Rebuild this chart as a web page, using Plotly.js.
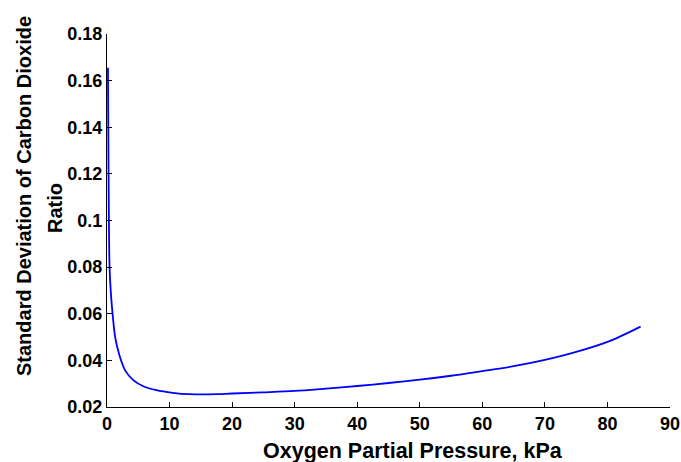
<!DOCTYPE html>
<html>
<head>
<meta charset="utf-8">
<script src="https://cdn.plot.ly/plotly-3.0.1.min.js"></script>
<style>html,body{margin:0;padding:0;background:#fff;}#chart{width:681px;height:462px;}</style>
</head>
<body>
<div id="chart"></div>
<script>
const oxygenKPa = [0.15, 0.25, 0.41, 0.63, 0.95, 1.31, 2.0, 2.9, 4.2, 5.8, 7.9, 10.5, 13.2, 17.6, 20, 25, 30, 35, 40, 45, 50, 55, 60, 65, 70, 75, 80, 85.3];
const sdRatio = [0.1655, 0.12, 0.08, 0.0684, 0.0584, 0.0499, 0.0421, 0.0357, 0.0315, 0.0289, 0.0272, 0.0261, 0.0255, 0.0255, 0.0258, 0.0263, 0.0269, 0.0279, 0.0290, 0.0303, 0.0317, 0.0334, 0.0354, 0.0375, 0.0402, 0.0436, 0.0479, 0.0545];
const xTicks = [0, 10, 20, 30, 40, 50, 60, 70, 80, 90];
const yTicks = [0.02, 0.04, 0.06, 0.08, 0.1, 0.12, 0.14, 0.16, 0.18];
const yTickText = ['0.02', '0.04', '0.06', '0.08', '0.1', '0.12', '0.14', '0.16', '0.18'];
const xTitle = 'Oxygen Partial Pressure, kPa';
const yTitleLines = ['Standard Deviation of Carbon Dioxide', 'Ratio'];

const fam = 'Liberation Sans, Arial, sans-serif';
const tickFont = {family: fam, size: 18, color: '#000', weight: 'bold'};
const titleFont = {family: fam, size: 20, color: '#000', weight: 'bold'};
const L = 107, R = 11, T = 34, B = 55, W = 681, H = 462;
const plotCx = L + (W - L - R) / 2, plotCy = T + (H - T - B) / 2;

Plotly.newPlot('chart', [{
  x: oxygenKPa, y: sdRatio, type: 'scatter', mode: 'lines',
  line: {color: '#0000ff', width: 1.8, shape: 'spline', smoothing: 0.9}
}], {
  width: W, height: H,
  margin: {l: L, r: R, t: T, b: B},
  paper_bgcolor: '#fff', plot_bgcolor: '#fff',
  showlegend: false,
  font: tickFont,
  xaxis: {
    range: [0, 90], tickvals: xTicks, ticks: 'inside', ticklen: 5, tickcolor: '#000',
    showline: true, linecolor: '#000', linewidth: 1, showgrid: false, zeroline: false,
    tickfont: tickFont, automargin: false
  },
  yaxis: {
    range: [0.02, 0.18], tickvals: yTicks, ticktext: yTickText, ticks: 'inside', ticklen: 5, tickcolor: '#000',
    showline: true, linecolor: '#000', linewidth: 1, showgrid: false, zeroline: false,
    tickfont: tickFont, automargin: false
  },
  annotations: [
    {text: xTitle, xref: 'paper', yref: 'paper', x: 0.5, y: 0, xanchor: 'center', yanchor: 'middle',
     xshift: 413 - plotCx, yshift: -(451 - (H - B)), showarrow: false, font: {family: fam, size: 21.5, color: '#000', weight: 'bold'}},
    {text: yTitleLines[0], xref: 'paper', yref: 'paper', x: 0, y: 0.5, xanchor: 'center', yanchor: 'middle', textangle: -90,
     xshift: 24 - L, yshift: plotCy - 196, showarrow: false, font: titleFont},
    {text: yTitleLines[1], xref: 'paper', yref: 'paper', x: 0, y: 0.5, xanchor: 'center', yanchor: 'middle', textangle: -90,
     xshift: 55 - L, yshift: plotCy - 208, showarrow: false, font: titleFont}
  ]
}, {displayModeBar: false, staticPlot: true});
</script>
</body>
</html>
